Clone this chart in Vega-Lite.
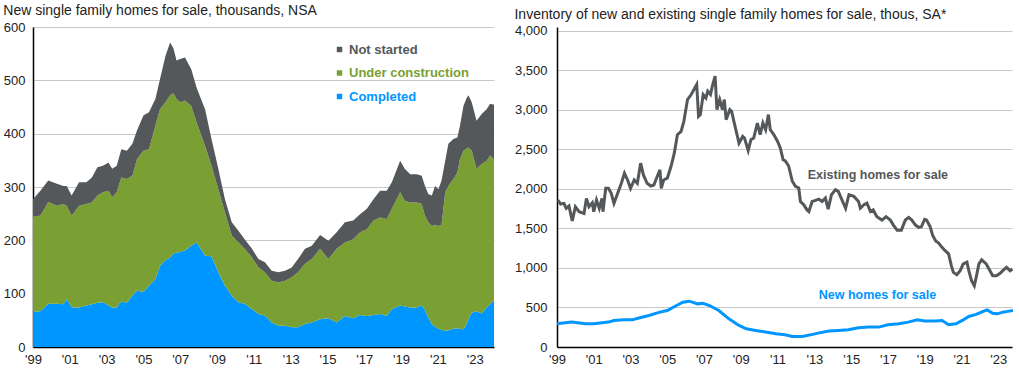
{
  "$schema": "https://vega.github.io/schema/vega-lite/v6.json",
  "padding": {"left": 3, "top": 4, "right": 0, "bottom": 0},
  "spacing": 20,
  "config": {
    "view": {"stroke": null},
    "font": "Liberation Sans",
    "axis": {"labelFont": "Liberation Sans", "labelFontSize": 13, "labelColor": "#222222", "gridColor": "#c8c8c8", "gridWidth": 1, "domainColor": "#000000", "domainWidth": 1.5, "ticks": false, "title": null, "labelOverlap": false, "labelFlush": false, "labelBound": false},
    "title": {"font": "Liberation Sans", "fontSize": 14, "fontWeight": "normal", "color": "#222222", "anchor": "start", "frame": "bounds"}
  },
  "datasets": {
    "left": [
      {"t": 1999.0, "Completed": 66, "Under construction": 179, "Not started": 32},
      {"t": 1999.4, "Completed": 67, "Under construction": 179, "Not started": 47},
      {"t": 1999.83, "Completed": 81, "Under construction": 191, "Not started": 40},
      {"t": 2000.3, "Completed": 81, "Under construction": 184, "Not started": 41},
      {"t": 2000.65, "Completed": 80, "Under construction": 188, "Not started": 34},
      {"t": 2000.83, "Completed": 90, "Under construction": 175, "Not started": 37},
      {"t": 2001.1, "Completed": 74, "Under construction": 172, "Not started": 38},
      {"t": 2001.5, "Completed": 74, "Under construction": 191, "Not started": 44},
      {"t": 2001.9, "Completed": 78, "Under construction": 190, "Not started": 41},
      {"t": 2002.2, "Completed": 80, "Under construction": 191, "Not started": 47},
      {"t": 2002.5, "Completed": 83, "Under construction": 201, "Not started": 53},
      {"t": 2002.8, "Completed": 84, "Under construction": 206, "Not started": 50},
      {"t": 2003.1, "Completed": 78, "Under construction": 215, "Not started": 53},
      {"t": 2003.3, "Completed": 74, "Under construction": 207, "Not started": 53},
      {"t": 2003.55, "Completed": 74, "Under construction": 216, "Not started": 50},
      {"t": 2003.8, "Completed": 86, "Under construction": 232, "Not started": 53},
      {"t": 2004.1, "Completed": 83, "Under construction": 232, "Not started": 53},
      {"t": 2004.4, "Completed": 96, "Under construction": 225, "Not started": 60},
      {"t": 2004.65, "Completed": 106, "Under construction": 246, "Not started": 54},
      {"t": 2005.0, "Completed": 103, "Under construction": 265, "Not started": 66},
      {"t": 2005.3, "Completed": 115, "Under construction": 256, "Not started": 69},
      {"t": 2005.65, "Completed": 127, "Under construction": 288, "Not started": 50},
      {"t": 2005.9, "Completed": 152, "Under construction": 294, "Not started": 56},
      {"t": 2006.2, "Completed": 163, "Under construction": 296, "Not started": 87},
      {"t": 2006.45, "Completed": 168, "Under construction": 304, "Not started": 99},
      {"t": 2006.63, "Completed": 175, "Under construction": 301, "Not started": 84},
      {"t": 2006.8, "Completed": 177, "Under construction": 288, "Not started": 72},
      {"t": 2007.0, "Completed": 178, "Under construction": 281, "Not started": 81},
      {"t": 2007.26, "Completed": 181, "Under construction": 281, "Not started": 81},
      {"t": 2007.6, "Completed": 190, "Under construction": 262, "Not started": 69},
      {"t": 2007.9, "Completed": 196, "Under construction": 224, "Not started": 65},
      {"t": 2008.35, "Completed": 171, "Under construction": 206, "Not started": 69},
      {"t": 2008.7, "Completed": 170, "Under construction": 170, "Not started": 50},
      {"t": 2009.07, "Completed": 140, "Under construction": 156, "Not started": 38},
      {"t": 2009.43, "Completed": 115, "Under construction": 137, "Not started": 25},
      {"t": 2009.8, "Completed": 96, "Under construction": 113, "Not started": 25},
      {"t": 2010.16, "Completed": 84, "Under construction": 112, "Not started": 22},
      {"t": 2010.5, "Completed": 81, "Under construction": 103, "Not started": 18},
      {"t": 2010.9, "Completed": 71, "Under construction": 97, "Not started": 16},
      {"t": 2011.25, "Completed": 62, "Under construction": 87, "Not started": 16},
      {"t": 2011.6, "Completed": 59, "Under construction": 81, "Not started": 19},
      {"t": 2011.97, "Completed": 46, "Under construction": 78, "Not started": 19},
      {"t": 2012.33, "Completed": 40, "Under construction": 81, "Not started": 19},
      {"t": 2012.7, "Completed": 40, "Under construction": 84, "Not started": 19},
      {"t": 2013.06, "Completed": 37, "Under construction": 94, "Not started": 18},
      {"t": 2013.4, "Completed": 37, "Under construction": 103, "Not started": 25},
      {"t": 2013.78, "Completed": 43, "Under construction": 113, "Not started": 28},
      {"t": 2014.15, "Completed": 46, "Under construction": 119, "Not started": 25},
      {"t": 2014.6, "Completed": 52, "Under construction": 132, "Not started": 26},
      {"t": 2015.05, "Completed": 54, "Under construction": 111, "Not started": 34},
      {"t": 2015.5, "Completed": 46, "Under construction": 138, "Not started": 31},
      {"t": 2015.95, "Completed": 58, "Under construction": 138, "Not started": 38},
      {"t": 2016.4, "Completed": 54, "Under construction": 148, "Not started": 35},
      {"t": 2016.77, "Completed": 60, "Under construction": 155, "Not started": 34},
      {"t": 2017.14, "Completed": 58, "Under construction": 163, "Not started": 38},
      {"t": 2017.5, "Completed": 60, "Under construction": 177, "Not started": 40},
      {"t": 2017.86, "Completed": 62, "Under construction": 181, "Not started": 50},
      {"t": 2018.22, "Completed": 58, "Under construction": 182, "Not started": 53},
      {"t": 2018.5, "Completed": 71, "Under construction": 188, "Not started": 50},
      {"t": 2018.95, "Completed": 78, "Under construction": 212, "Not started": 59},
      {"t": 2019.2, "Completed": 76, "Under construction": 198, "Not started": 60},
      {"t": 2019.5, "Completed": 74, "Under construction": 197, "Not started": 53},
      {"t": 2019.85, "Completed": 74, "Under construction": 197, "Not started": 53},
      {"t": 2020.12, "Completed": 78, "Under construction": 190, "Not started": 53},
      {"t": 2020.3, "Completed": 70, "Under construction": 176, "Not started": 56},
      {"t": 2020.48, "Completed": 55, "Under construction": 179, "Not started": 53},
      {"t": 2020.67, "Completed": 43, "Under construction": 184, "Not started": 57},
      {"t": 2020.85, "Completed": 38, "Under construction": 191, "Not started": 73},
      {"t": 2021.03, "Completed": 34, "Under construction": 193, "Not started": 69},
      {"t": 2021.2, "Completed": 32, "Under construction": 197, "Not started": 83},
      {"t": 2021.4, "Completed": 31, "Under construction": 259, "Not started": 59},
      {"t": 2021.57, "Completed": 31, "Under construction": 271, "Not started": 79},
      {"t": 2021.84, "Completed": 34, "Under construction": 281, "Not started": 75},
      {"t": 2022.06, "Completed": 35, "Under construction": 292, "Not started": 66},
      {"t": 2022.2, "Completed": 34, "Under construction": 318, "Not started": 63},
      {"t": 2022.39, "Completed": 33, "Under construction": 335, "Not started": 84},
      {"t": 2022.55, "Completed": 42, "Under construction": 330, "Not started": 94},
      {"t": 2022.66, "Completed": 52, "Under construction": 322, "Not started": 98},
      {"t": 2022.84, "Completed": 64, "Under construction": 304, "Not started": 91},
      {"t": 2023.1, "Completed": 67, "Under construction": 267, "Not started": 90},
      {"t": 2023.38, "Completed": 63, "Under construction": 280, "Not started": 94},
      {"t": 2023.65, "Completed": 74, "Under construction": 275, "Not started": 97},
      {"t": 2023.84, "Completed": 80, "Under construction": 279, "Not started": 97},
      {"t": 2024.05, "Completed": 87, "Under construction": 265, "Not started": 102}
    ],
    "existing": [
      {"t": 1999.05, "v": 1860}, {"t": 1999.2, "v": 1810}, {"t": 1999.38, "v": 1818}, {"t": 1999.5, "v": 1754},
      {"t": 1999.65, "v": 1784}, {"t": 1999.83, "v": 1597}, {"t": 2000.0, "v": 1775}, {"t": 2000.2, "v": 1712},
      {"t": 2000.47, "v": 1690}, {"t": 2000.6, "v": 1881}, {"t": 2000.74, "v": 1775}, {"t": 2000.92, "v": 1826},
      {"t": 2001.0, "v": 1712}, {"t": 2001.15, "v": 1860}, {"t": 2001.3, "v": 1754}, {"t": 2001.45, "v": 1881},
      {"t": 2001.5, "v": 1712}, {"t": 2001.65, "v": 2008}, {"t": 2001.8, "v": 2008}, {"t": 2001.95, "v": 1945},
      {"t": 2002.1, "v": 1818}, {"t": 2002.3, "v": 1945}, {"t": 2002.5, "v": 2072}, {"t": 2002.67, "v": 2199},
      {"t": 2002.84, "v": 2114}, {"t": 2003.0, "v": 2008}, {"t": 2003.2, "v": 2114}, {"t": 2003.37, "v": 2072},
      {"t": 2003.55, "v": 2326}, {"t": 2003.7, "v": 2178}, {"t": 2003.9, "v": 2072}, {"t": 2004.1, "v": 2038},
      {"t": 2004.27, "v": 2051}, {"t": 2004.45, "v": 2157}, {"t": 2004.6, "v": 2241}, {"t": 2004.67, "v": 2008},
      {"t": 2004.8, "v": 2114}, {"t": 2005.0, "v": 2136}, {"t": 2005.2, "v": 2284}, {"t": 2005.38, "v": 2453},
      {"t": 2005.55, "v": 2686}, {"t": 2005.75, "v": 2729}, {"t": 2005.9, "v": 2856}, {"t": 2006.1, "v": 3131},
      {"t": 2006.3, "v": 3195}, {"t": 2006.45, "v": 3258}, {"t": 2006.6, "v": 3322}, {"t": 2006.7, "v": 2919},
      {"t": 2006.8, "v": 2941}, {"t": 2006.95, "v": 3195}, {"t": 2007.1, "v": 3152}, {"t": 2007.2, "v": 3237},
      {"t": 2007.35, "v": 3195}, {"t": 2007.45, "v": 3301}, {"t": 2007.6, "v": 3428}, {"t": 2007.7, "v": 3004},
      {"t": 2007.85, "v": 3131}, {"t": 2008.0, "v": 3004}, {"t": 2008.1, "v": 3131}, {"t": 2008.2, "v": 2877},
      {"t": 2008.4, "v": 3004}, {"t": 2008.5, "v": 2983}, {"t": 2008.6, "v": 2877}, {"t": 2008.75, "v": 2729},
      {"t": 2008.9, "v": 2580}, {"t": 2009.1, "v": 2665}, {"t": 2009.2, "v": 2644}, {"t": 2009.4, "v": 2487},
      {"t": 2009.55, "v": 2623}, {"t": 2009.7, "v": 2644}, {"t": 2009.9, "v": 2835}, {"t": 2010.05, "v": 2686},
      {"t": 2010.2, "v": 2835}, {"t": 2010.35, "v": 2750}, {"t": 2010.5, "v": 2941}, {"t": 2010.6, "v": 2750},
      {"t": 2010.8, "v": 2686}, {"t": 2011.0, "v": 2602}, {"t": 2011.15, "v": 2517}, {"t": 2011.3, "v": 2369},
      {"t": 2011.42, "v": 2355}, {"t": 2011.6, "v": 2291}, {"t": 2011.8, "v": 2098}, {"t": 2011.97, "v": 2034},
      {"t": 2012.15, "v": 2013}, {"t": 2012.24, "v": 1842}, {"t": 2012.42, "v": 1800}, {"t": 2012.6, "v": 1735},
      {"t": 2012.7, "v": 1714}, {"t": 2012.88, "v": 1842}, {"t": 2013.06, "v": 1855}, {"t": 2013.24, "v": 1872},
      {"t": 2013.42, "v": 1842}, {"t": 2013.6, "v": 1885}, {"t": 2013.75, "v": 1744}, {"t": 2013.93, "v": 1927},
      {"t": 2014.15, "v": 1991}, {"t": 2014.3, "v": 1970}, {"t": 2014.5, "v": 1863}, {"t": 2014.7, "v": 1756},
      {"t": 2014.88, "v": 1927}, {"t": 2015.15, "v": 1906}, {"t": 2015.4, "v": 1842}, {"t": 2015.5, "v": 1756},
      {"t": 2015.7, "v": 1800}, {"t": 2015.86, "v": 1821}, {"t": 2016.05, "v": 1714}, {"t": 2016.2, "v": 1735},
      {"t": 2016.4, "v": 1650}, {"t": 2016.68, "v": 1607}, {"t": 2016.9, "v": 1650}, {"t": 2017.13, "v": 1607},
      {"t": 2017.3, "v": 1543}, {"t": 2017.5, "v": 1479}, {"t": 2017.73, "v": 1479}, {"t": 2017.95, "v": 1607},
      {"t": 2018.13, "v": 1641}, {"t": 2018.3, "v": 1607}, {"t": 2018.5, "v": 1543}, {"t": 2018.68, "v": 1513},
      {"t": 2018.82, "v": 1521}, {"t": 2019.0, "v": 1615}, {"t": 2019.1, "v": 1607}, {"t": 2019.3, "v": 1521},
      {"t": 2019.43, "v": 1415}, {"t": 2019.6, "v": 1342}, {"t": 2019.76, "v": 1316}, {"t": 2019.93, "v": 1265},
      {"t": 2020.1, "v": 1222}, {"t": 2020.3, "v": 1179}, {"t": 2020.45, "v": 1030}, {"t": 2020.56, "v": 944},
      {"t": 2020.75, "v": 915}, {"t": 2020.93, "v": 966}, {"t": 2021.1, "v": 1051}, {"t": 2021.3, "v": 1073},
      {"t": 2021.4, "v": 966}, {"t": 2021.55, "v": 838}, {"t": 2021.7, "v": 774}, {"t": 2021.8, "v": 880},
      {"t": 2021.95, "v": 1051}, {"t": 2022.1, "v": 1103}, {"t": 2022.35, "v": 1051}, {"t": 2022.5, "v": 987},
      {"t": 2022.7, "v": 902}, {"t": 2022.9, "v": 902}, {"t": 2023.1, "v": 932}, {"t": 2023.25, "v": 966},
      {"t": 2023.45, "v": 1009}, {"t": 2023.65, "v": 966}, {"t": 2023.77, "v": 987}
    ],
    "newhomes": [
      {"t": 1999.0, "v": 294}, {"t": 1999.8, "v": 315}, {"t": 2000.55, "v": 294}, {"t": 2001.0, "v": 294},
      {"t": 2001.8, "v": 315}, {"t": 2002.1, "v": 336}, {"t": 2002.6, "v": 344}, {"t": 2003.1, "v": 344},
      {"t": 2003.5, "v": 370}, {"t": 2004.0, "v": 399}, {"t": 2004.6, "v": 441}, {"t": 2005.0, "v": 462},
      {"t": 2005.5, "v": 525}, {"t": 2005.85, "v": 567}, {"t": 2006.2, "v": 580}, {"t": 2006.65, "v": 546},
      {"t": 2006.93, "v": 554}, {"t": 2007.3, "v": 525}, {"t": 2007.8, "v": 462}, {"t": 2008.35, "v": 357},
      {"t": 2008.9, "v": 273}, {"t": 2009.3, "v": 231}, {"t": 2009.8, "v": 210}, {"t": 2010.35, "v": 189},
      {"t": 2010.9, "v": 168}, {"t": 2011.4, "v": 155}, {"t": 2011.8, "v": 134}, {"t": 2012.35, "v": 134},
      {"t": 2012.9, "v": 160}, {"t": 2013.2, "v": 176}, {"t": 2013.8, "v": 202}, {"t": 2014.3, "v": 210},
      {"t": 2014.85, "v": 218}, {"t": 2015.4, "v": 244}, {"t": 2015.95, "v": 252}, {"t": 2016.5, "v": 252},
      {"t": 2017.0, "v": 281}, {"t": 2017.6, "v": 294}, {"t": 2018.1, "v": 315}, {"t": 2018.6, "v": 344},
      {"t": 2019.0, "v": 328}, {"t": 2019.6, "v": 328}, {"t": 2019.95, "v": 336}, {"t": 2020.3, "v": 281},
      {"t": 2020.7, "v": 294}, {"t": 2021.05, "v": 336}, {"t": 2021.4, "v": 386}, {"t": 2021.8, "v": 412},
      {"t": 2022.15, "v": 449}, {"t": 2022.4, "v": 470}, {"t": 2022.7, "v": 428}, {"t": 2022.95, "v": 420},
      {"t": 2023.25, "v": 441}, {"t": 2023.6, "v": 454}, {"t": 2023.8, "v": 462}
    ],
    "labels": [
      {"t": 2012.64, "v": 2177, "label": "Existing homes for  sale", "series": "existing"},
      {"t": 2013.24, "v": 658, "label": "New homes for sale", "series": "new"}
    ]
  },
  "hconcat": [
    {
      "width": 461,
      "height": 320,
      "title": {"text": "New single family homes for sale, thousands, NSA", "offset": 3},
      "data": {"name": "left"},
      "transform": [
        {"fold": ["Completed", "Under construction", "Not started"], "as": ["stage", "value"]},
        {"calculate": "indexof(['Completed', 'Under construction', 'Not started'], datum.stage)", "as": "ord"}
      ],
      "mark": {"type": "area", "interpolate": "linear"},
      "encoding": {
        "x": {"field": "t", "type": "quantitative",
          "scale": {"domain": [1999, 2024.05], "nice": false, "zero": false},
          "axis": {"values": [1999, 2001, 2003, 2005, 2007, 2009, 2011, 2013, 2015, 2017, 2019, 2021, 2023], "labelExpr": "\"'\" + slice('' + datum.value, 2)", "grid": false, "labelPadding": 6}},
        "y": {"field": "value", "type": "quantitative", "stack": "zero",
          "scale": {"domain": [0, 600], "nice": false},
          "axis": {"values": [0, 100, 200, 300, 400, 500, 600], "grid": true, "labelPadding": 8}},
        "color": {"field": "stage", "type": "nominal",
          "scale": {"domain": ["Not started", "Under construction", "Completed"], "range": ["#54585a", "#7aa033", "#0096ff"]},
          "legend": {"orient": "none", "legendX": 300, "legendY": 16, "title": null, "symbolType": "square", "symbolSize": 30, "symbolStrokeWidth": 0, "labelFont": "Liberation Sans", "labelFontSize": 13, "labelFontWeight": "bold", "rowPadding": 9.5, "labelOffset": 3,
            "labelColor": {"expr": "datum.label == 'Completed' ? '#0096ff' : (datum.label == 'Under construction' ? '#7aa033' : '#54585a')"}}},
        "order": {"field": "ord", "type": "quantitative"}
      }
    },
    {
      "width": 455,
      "height": 320,
      "title": {"text": "Inventory of new and existing single family homes for sale, thous, SA*", "offset": 3},
      "encoding": {
        "x": {"field": "t", "type": "quantitative",
          "scale": {"domain": [1999, 2023.75], "nice": false, "zero": false},
          "axis": {"values": [1999, 2001, 2003, 2005, 2007, 2009, 2011, 2013, 2015, 2017, 2019, 2021, 2023], "labelExpr": "\"'\" + slice('' + datum.value, 2)", "grid": false, "labelPadding": 6}},
        "y": {"field": "v", "type": "quantitative",
          "scale": {"domain": [0, 4050], "nice": false},
          "axis": {"values": [0, 500, 1000, 1500, 2000, 2500, 3000, 3500, 4000], "format": ",.0f", "grid": true, "labelPadding": 10}}
      },
      "layer": [
        {
          "data": {"name": "existing"},
          "mark": {"type": "line", "color": "#54585a", "strokeWidth": 3}
        },
        {
          "data": {"name": "newhomes"},
          "mark": {"type": "line", "color": "#0096ff", "strokeWidth": 3}
        },
        {
          "data": {"name": "labels"},
          "mark": {"type": "text", "align": "left", "baseline": "middle", "font": "Liberation Sans", "fontSize": 12.5, "fontWeight": "bold"},
          "encoding": {
            "text": {"field": "label"},
            "color": {"field": "series", "type": "nominal", "scale": {"domain": ["existing", "new"], "range": ["#54585a", "#0096ff"]}, "legend": null}
          }
        }
      ],
      "resolve": {"scale": {"color": "independent"}}
    }
  ],
  "resolve": {"scale": {"color": "independent"}}
}
